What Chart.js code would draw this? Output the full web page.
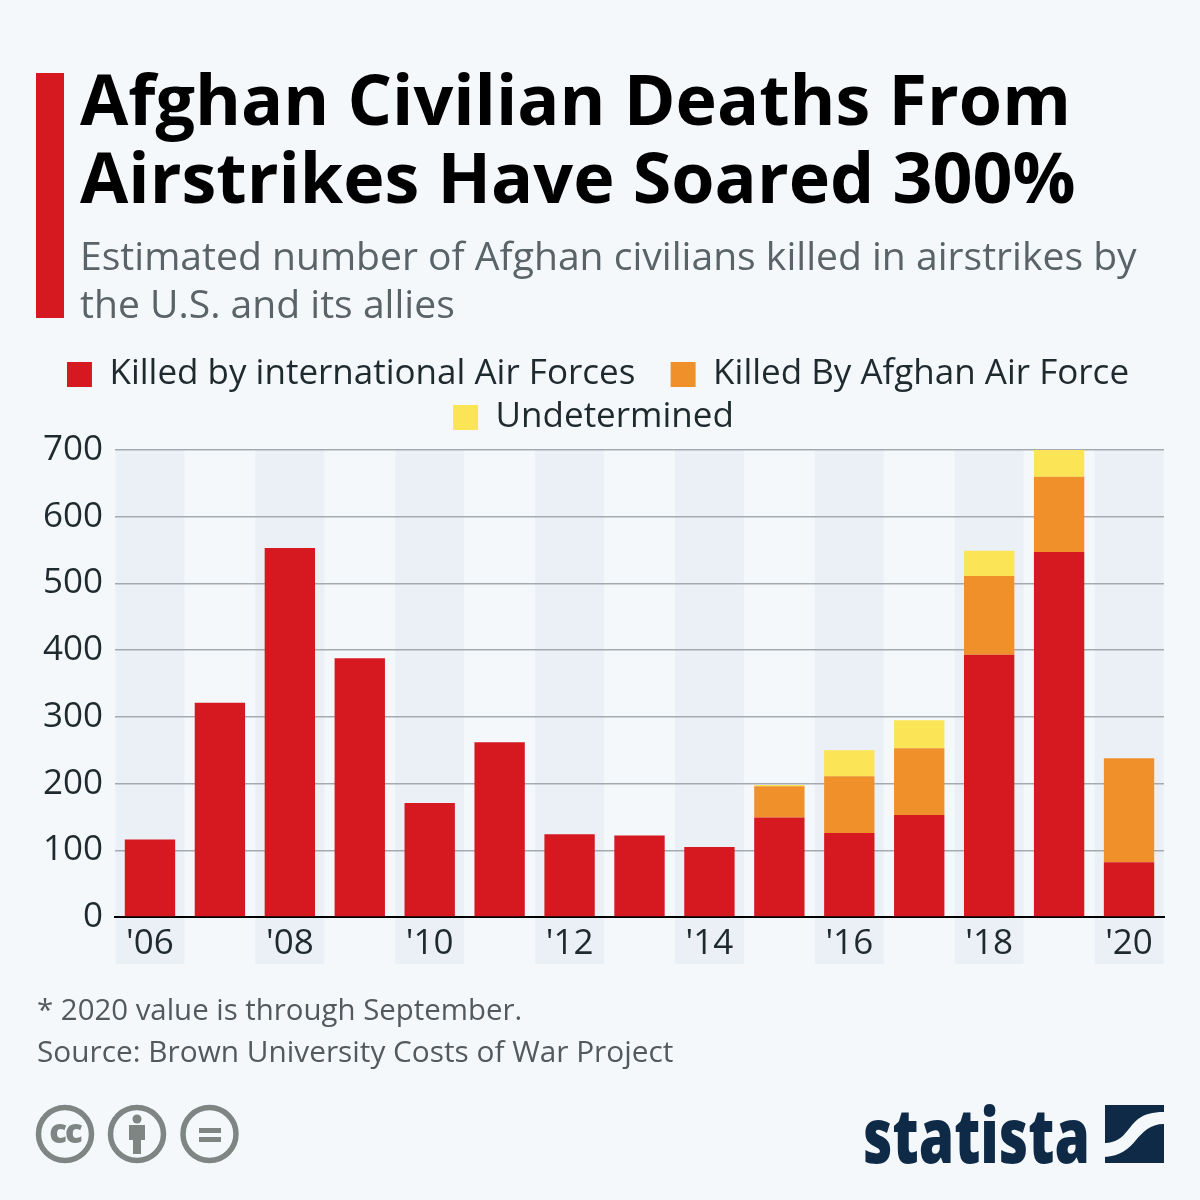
<!DOCTYPE html>
<html>
<head>
<meta charset="utf-8">
<script src="https://cdn.jsdelivr.net/npm/chart.js@4/dist/chart.umd.min.js"></script>
<style>
  html, body { margin: 0; padding: 0; background: #f4f8fb; }
  #page { position: relative; width: 1200px; height: 1200px; overflow: hidden; font-family: "Open Sans", sans-serif; }
  #page div { position: absolute; white-space: nowrap; }
  #bar { left: 36px; top: 73px; width: 28px; height: 245px; background: #d61921; }
  .title { left: 80px; font-size: 70px; font-weight: 700; color: #000; line-height: 80px; }
  .sub { left: 80px; font-size: 39.1px; color: #5a6367; line-height: 48px; }
  .foot { left: 37px; font-size: 29.8px; color: #53595d; line-height: 42px; }
  svg { position: absolute; left: 0; top: 0; }
</style>
</head>
<body>
<div id="page">
  <canvas id="deathsChart" width="1200" height="1200" style="position:absolute;left:0;top:0"></canvas>
  <div id="bar"></div>
  <div class="title" style="top:58px">Afghan Civilian Deaths From</div>
  <div class="title" style="top:136px">Airstrikes Have Soared 300%</div>
  <div class="sub" style="top:231px">Estimated number of Afghan civilians killed in airstrikes by</div>
  <div class="sub" style="top:279px">the U.S. and its allies</div>
  <div class="foot" style="top:988px;font-size:29.4px">* 2020 value is through September.</div>
  <div class="foot" style="top:1030px">Source: Brown University Costs of War Project</div>
  <svg width="1200" height="1200" viewBox="0 0 1200 1200">
    <g fill="none" stroke="#7f8583" stroke-width="5.5">
      <circle cx="65" cy="1134" r="26.5"/>
      <circle cx="137" cy="1134" r="26.5"/>
      <circle cx="209.5" cy="1134" r="26.5"/>
    </g>
    <text x="65" y="1143" text-anchor="middle" font-family="Open Sans" font-weight="800" font-size="33" letter-spacing="-2" fill="#7f8583">cc</text>
    <g fill="#7f8583">
      <circle cx="137" cy="1119" r="4.5"/>
      <path d="M129 1125h16v15h-4v14h-8v-14h-4z"/>
      <rect x="199" y="1128" width="22" height="5"/>
      <rect x="199" y="1137" width="22" height="5"/>
    </g>
    <text x="863" y="1163" textLength="227" lengthAdjust="spacingAndGlyphs" font-family="Open Sans" font-weight="800" font-size="76" fill="#0f2a47">statista</text>
    <path fill="#0f2a47" d="M1105 1105H1164V1112C1140 1112 1135 1122 1128 1130C1122 1138 1115 1143 1105 1143Z"/>
    <path fill="#0f2a47" d="M1164 1124C1150 1124 1143 1132 1136 1140C1129 1149 1120 1156 1105 1157V1163H1164Z"/>
  </svg>
</div>
<script>
var years = ["'06","'07","'08","'09","'10","'11","'12","'13","'14","'15","'16","'17","'18","'19","'20"];
var international = [116,321,553,388,171,262,124,122,105,149,126,153,393,547,82];
var afghan = [0,0,0,0,0,0,0,0,0,47,85,100,118,113,156];
var undetermined = [0,0,0,0,0,0,0,0,0,2,39,42,38,40,0];
var yTicks = [0,100,200,300,400,500,600,700];
var legendGaps = ['\u00a0\u00a0\u00a0', '', '\u00a0'];

// alternating stripes behind every second year, running down past the axis
var stripes = {
  id: 'stripes',
  afterLayout: function(chart) {
    // legend centres on the page, not on what is left after the right padding
    chart.legend.left += 16;
    chart.legend.right += 16;
    chart.legend.top -= 5;
    chart.legend.bottom -= 5;
  },
  beforeDraw: function(chart) {
    var x = chart.scales.x, ctx = chart.ctx;
    var step = x.width / years.length;
    ctx.save();
    ctx.fillStyle = '#ebf0f7';
    years.forEach(function(y, i) {
      if (i % 2 == 0) {
        ctx.fillRect(x.getPixelForValue(i) - step / 2 + 0.5, chart.chartArea.top, step - 1, 964 - chart.chartArea.top);
      }
    });
    ctx.restore();
  }
};

var myChart = document.getElementById('deathsChart').getContext('2d');
new Chart(myChart, {
  type: 'bar',
  plugins: [stripes],
  data: {
    labels: years,
    datasets: [
      { label: 'Killed by international Air Forces', data: international, backgroundColor: '#d61921' },
      { label: 'Killed By Afghan Air Force', data: afghan, backgroundColor: '#f0902a' },
      { label: 'Undetermined', data: undetermined, backgroundColor: '#fbe455' }
    ]
  },
  options: {
    responsive: false,
    animation: false,
    devicePixelRatio: 1,
    barPercentage: 0.72,
    categoryPercentage: 1.0,
    layout: { autoPadding: false, padding: { top: 354, left: 0, right: 36, bottom: 237 } },
    plugins: {
      tooltip: { enabled: false },
      legend: {
        position: 'top',
        labels: {
          boxWidth: 25, boxHeight: 25, padding: 8, color: '#1f2a2e',
          font: { family: 'Open Sans', size: 35 },
          generateLabels: function(chart) {
            var items = Chart.defaults.plugins.legend.labels.generateLabels(chart);
            items.forEach(function(item, i) { item.text += legendGaps[i]; });
            return items;
          }
        }
      }
    },
    scales: {
      x: {
        stacked: true,
        afterFit: function(s) { s.height = 46; },
        grid: { display: false, drawTicks: false },
        border: { color: '#000', width: 2 },
        ticks: {
          autoSkip: false, maxRotation: 0, padding: 6, color: '#1f2a2e',
          font: { family: 'Open Sans', size: 35 },
          callback: function(v, i) { return i % 2 == 0 ? years[i] : ''; }
        }
      },
      y: {
        stacked: true,
        min: 0,
        max: 700,
        afterFit: function(s) { s.width = 115; },
        afterBuildTicks: function(s) { s.ticks = yTicks.map(function(v) { return { value: v }; }); },
        grid: { color: '#a3abb1', lineWidth: 1.5, drawTicks: false },
        border: { display: false },
        ticks: { padding: 12, color: '#1f2a2e', font: { family: 'Open Sans', size: 35 } }
      }
    }
  }
});
</script>
</body>
</html>
